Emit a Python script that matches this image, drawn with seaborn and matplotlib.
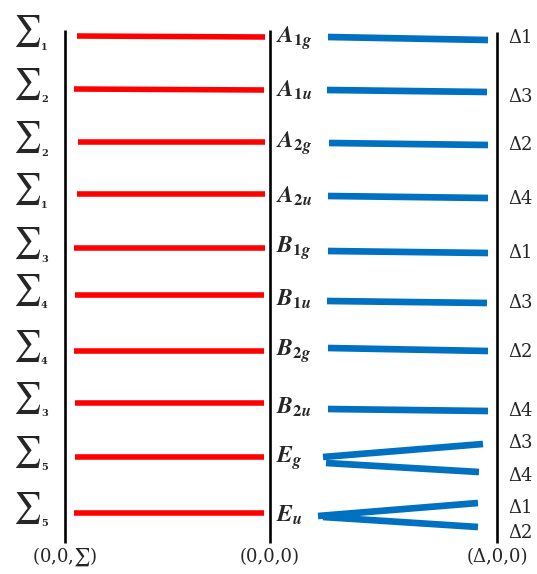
import pandas as pd
import numpy as np
import matplotlib.pyplot as plt
import seaborn as sns

sns.set_style('white')
plt.rcParams['font.family'] = ['DejaVu Serif', 'DejaVu Sans']
plt.rcParams['mathtext.fontset'] = 'stix'

# k 点位置（横向）
k_pos = [65, 270, 497]
k_labels = [r'(0,0,$\sum$)', '(0,0,0)', '(Δ,0,0)']

# 左侧 Σ 能级（红线）
sigma_sub = ['1', '2', '2', '1', '3', '4', '4', '3', '5', '5']
red_x0 = [77, 74, 78, 77, 74, 75, 74, 75, 75, 74]
red_x1 = [265, 264, 265, 265, 265, 264, 264, 264, 264, 264]
red_y0 = [36, 89, 142, 194, 248, 295, 351, 403, 457, 513]
red_y1 = [37, 90, 142, 194, 248, 295, 351, 403, 457, 513]

# Γ 点不可约表示
gamma_labels = [r'$\mathbfit{A}_{\mathbf{1}\mathbfit{g}}$', r'$\mathbfit{A}_{\mathbf{1}\mathbfit{u}}$',
                r'$\mathbfit{A}_{\mathbf{2}\mathbfit{g}}$', r'$\mathbfit{A}_{\mathbf{2}\mathbfit{u}}$',
                r'$\mathbfit{B}_{\mathbf{1}\mathbfit{g}}$', r'$\mathbfit{B}_{\mathbf{1}\mathbfit{u}}$',
                r'$\mathbfit{B}_{\mathbf{2}\mathbfit{g}}$', r'$\mathbfit{B}_{\mathbf{2}\mathbfit{u}}$',
                r'$\mathbfit{E}_{\mathbfit{g}}$', r'$\mathbfit{E}_{\mathbfit{u}}$']
gamma_y = [38, 90, 143, 196, 248, 299, 351, 407, 458, 515]

# 右侧 Δ 能级（蓝线）
blue_x0 = [328, 327, 329, 328, 328, 327, 328, 328, 323, 326, 318, 323]
blue_x1 = [488, 487, 488, 488, 488, 487, 488, 488, 483, 479, 478, 478]
blue_y0 = [37, 90, 143, 196, 251, 301, 348, 409, 457, 463, 516, 517]
blue_y1 = [40, 92, 145, 198, 253, 303, 351, 411, 444, 472, 503, 527]
delta_labels = ['Δ1', 'Δ3', 'Δ2', 'Δ4', 'Δ1', 'Δ3', 'Δ2', 'Δ4', 'Δ3', 'Δ4', 'Δ1', 'Δ2']
delta_y = [38, 97, 145, 199, 253, 303, 352, 411, 443, 476, 508, 533]


def segments(x0, x1, y0, y1):
    rows = []
    for i in range(len(x0)):
        rows.append({'seg': i, 'x': x0[i], 'y': y0[i]})
        rows.append({'seg': i, 'x': x1[i], 'y': y1[i]})
    return pd.DataFrame(rows)


fig = plt.figure(figsize=(5.37, 5.74), dpi=100)
ax = fig.add_axes([0, 0, 1, 1])

red_df = segments(red_x0, red_x1, red_y0, red_y1)
blue_df = segments(blue_x0, blue_x1, blue_y0, blue_y1)
sns.lineplot(data=red_df, x='x', y='y', units='seg', estimator=None, color='#FF0000',
             lw=4.0, solid_capstyle='butt', ax=ax, legend=False)
sns.lineplot(data=blue_df, x='x', y='y', units='seg', estimator=None, color='#0070C0',
             lw=4.8, solid_capstyle='butt', ax=ax, legend=False)

# 竖线
ax.vlines(k_pos[0], 30, 543, color='black', lw=1.9)
ax.vlines(k_pos[1], 30, 543, color='black', lw=1.9)
ax.vlines(k_pos[2], 32, 543, color='black', lw=1.9)

# 左侧 Σ 标签
for y, s in zip(red_y0, sigma_sub):
    ax.text(27, y - 5, r'$\sum$', fontsize=22, ha='center', va='center')
    ax.text(41, y + 11, s, fontsize=7, fontweight='bold', ha='left', va='center')

for y, lab in zip(gamma_y, gamma_labels):
    ax.text(276, y, lab, fontsize=17, ha='left', va='center')

for y, lab in zip(delta_y, delta_labels):
    ax.text(508, y, lab, fontsize=13, ha='left', va='center')

for x, lab in zip(k_pos, k_labels):
    ax.text(x, 557, lab, fontsize=13, ha='center', va='center')

ax.set_xlim(0, 537)
ax.set_ylim(574, 0)
ax.axis('off')

plt.savefig('out.png', dpi=100)
plt.close()
